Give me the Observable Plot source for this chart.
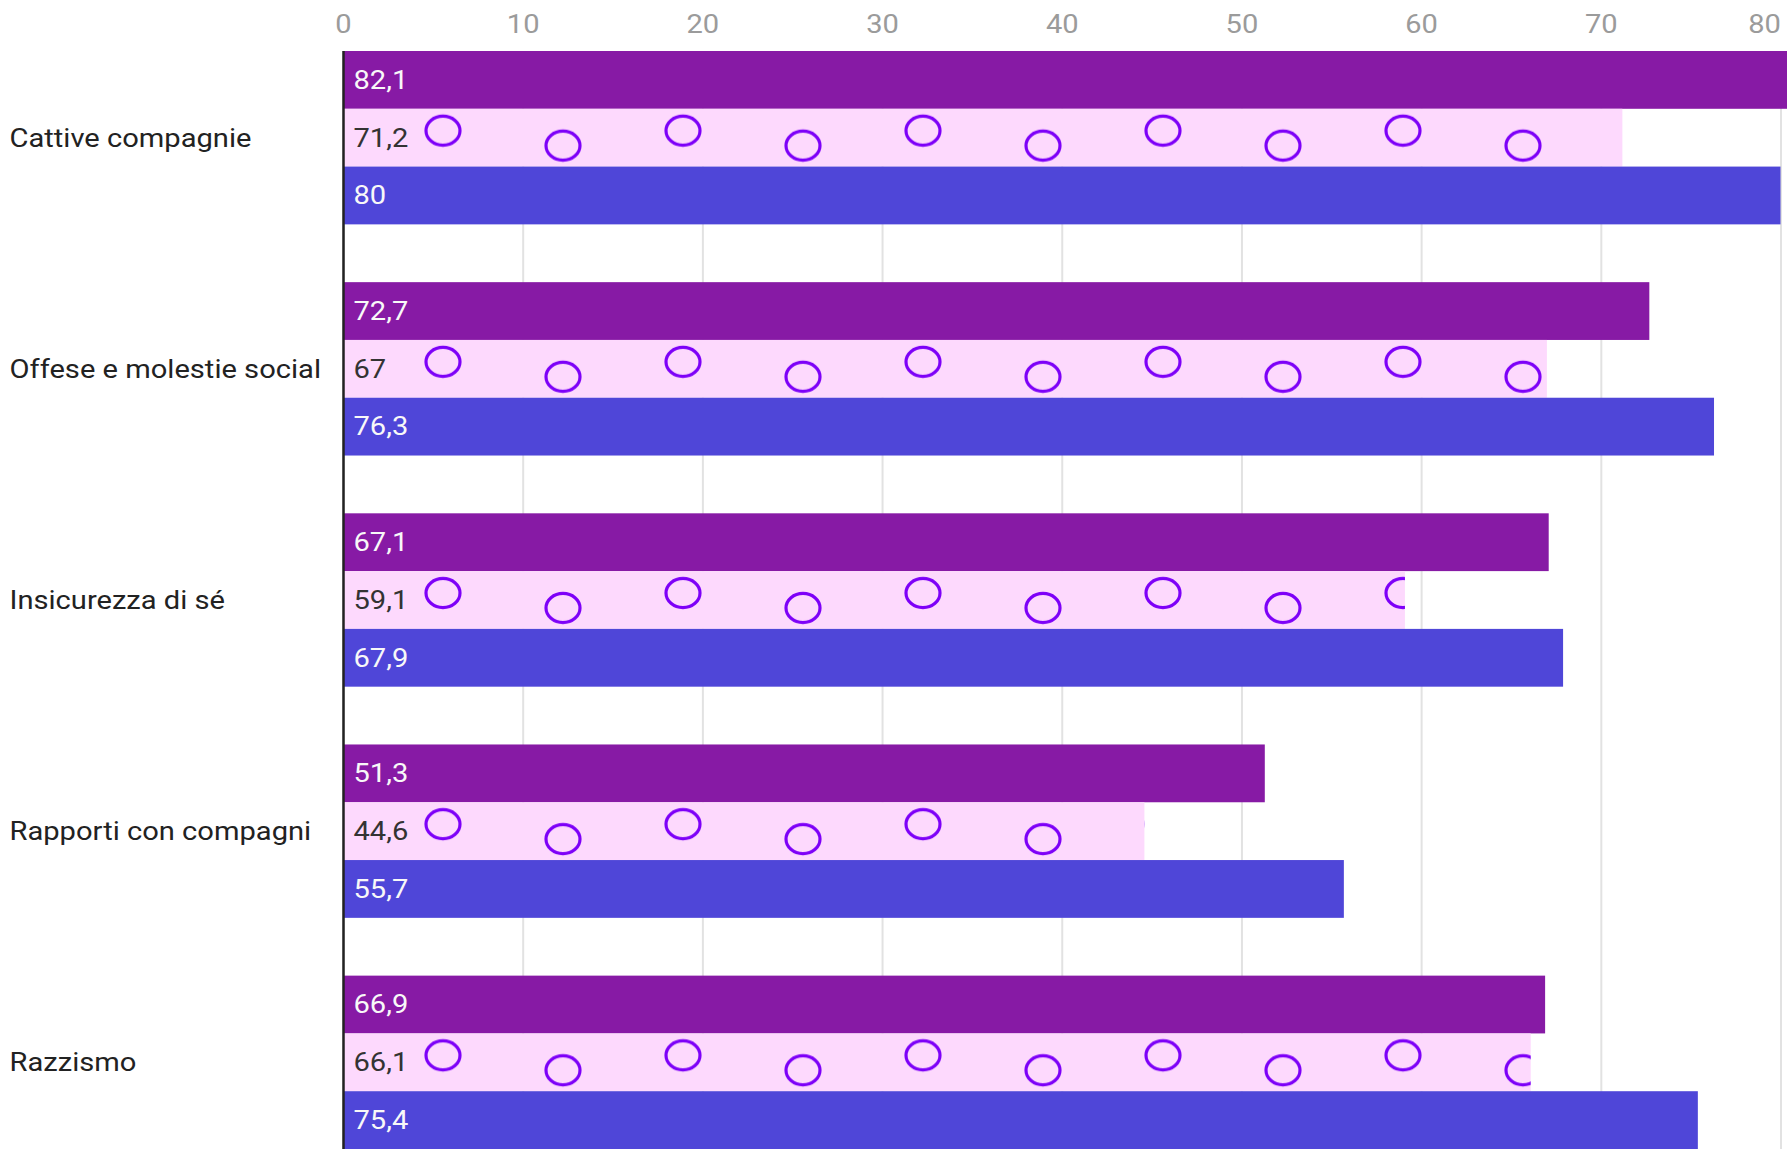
<!DOCTYPE html>
<html>
<head>
<meta charset="utf-8">
<script src="https://cdn.jsdelivr.net/npm/d3@7"></script>
<script src="https://cdn.jsdelivr.net/npm/@observablehq/plot@0.6"></script>
<style>
  html, body { margin: 0; padding: 0; background: #ffffff; overflow: hidden; }
</style>
</head>
<body>
<div id="chart"></div>
<script>
// ---- data ----
const categories = [
  "Cattive compagnie",
  "Offese e molestie social",
  "Insicurezza di sé",
  "Rapporti con compagni",
  "Razzismo"
];
const seriesNames = ["Serie 1", "Serie 2", "Serie 3"];
const series1 = [82.1, 72.7, 67.1, 51.3, 66.9];
const series2 = [71.2, 67, 59.1, 44.6, 66.1];
const series3 = [80, 76.3, 67.9, 55.7, 75.4];
const xTicks = [0, 10, 20, 30, 40, 50, 60, 70, 80];

// ---- styles ----
const seriesFill = ["#871aa5", "url(#cerchi)", "#4f46d8"];
const labelFill = ["#f8f8f8", "#333333", "#f8f8f8"];
const fontSize = 26;
const textStretch = 1.12; // the lettering in the reference is slightly wide

const key = (c, s) => c + "|" + s;
const allSeries = [series1, series2, series3];
const rows = [];
categories.forEach((c, i) => {
  allSeries.forEach((vals, j) => {
    rows.push({category: c, series: seriesNames[j], s: j, value: vals[i], k: key(c, seriesNames[j])});
  });
});
const yDomain = categories.flatMap((c, i) => {
  const k = seriesNames.map(s => key(c, s));
  return i < categories.length - 1 ? [...k, key(c, "spazio")] : k;
});
const fmt = v => v.toLocaleString("it-IT");

const chart = Plot.plot({
  width: 1787,
  height: 1153,
  marginLeft: 343,
  marginRight: 6.5,
  marginTop: 51,
  marginBottom: 4,
  style: {fontFamily: "Roboto, sans-serif", fontSize: fontSize + "px", background: "#ffffff", overflow: "hidden"},
  x: {domain: [0, 80], axis: null},
  y: {domain: yDomain, axis: null, padding: 0, round: false},
  color: {domain: seriesNames, range: seriesFill},
  marks: [
    Plot.gridX(xTicks, {stroke: "#e2e2e2", strokeOpacity: 1, strokeWidth: 2}),
    Plot.barX(rows, {x: "value", y: "k", fill: "series"}),
    Plot.ruleX([0], {stroke: "#222222", strokeWidth: 2.5}),
    Plot.text(rows.filter(d => d.s !== 1), {
      x: 0, y: "k", text: d => fmt(d.value), dx: 10, textAnchor: "start",
      fill: labelFill[0], fontSize
    }),
    Plot.text(rows.filter(d => d.s === 1), {
      x: 0, y: "k", text: d => fmt(d.value), dx: 10, textAnchor: "start",
      fill: labelFill[1], fontSize
    }),
    Plot.text(categories, {
      y: c => key(c, seriesNames[1]), text: c => c, frameAnchor: "left",
      dx: -334, textAnchor: "start", fill: "#222222", fontSize
    }),
    Plot.axisX(xTicks.slice(0, -1), {
      anchor: "top", tickSize: 0, tickPadding: 19, fill: "#9b9b9b", fontSize, label: null
    }),
    Plot.axisX(xTicks.slice(-1), {
      anchor: "top", tickSize: 0, tickPadding: 19, fill: "#9b9b9b", fontSize, textAnchor: "end", label: null
    })
  ]
});

// widen the lettering about each text's own anchor point
d3.select(chart).selectAll("text").each(function () {
  const t = this.getAttribute("transform");
  if (t) {
    this.setAttribute("transform", t + ` scale(${textStretch},1)`);
  } else {
    const x = +this.getAttribute("x") || 0;
    const y = +this.getAttribute("y") || 0;
    this.setAttribute("transform", `translate(${x},${y}) scale(${textStretch},1) translate(${-x},${-y})`);
  }
});

// pattern for the middle series: pink fill with violet rings
const ys = chart.scale("y");
const xs = chart.scale("x");
const y0 = ys.apply(key(categories[0], seriesNames[1]));
const step = ys.apply(key(categories[1], seriesNames[1])) - y0;
const bw = ys.bandwidth;
const x0 = xs.apply(0);
const svg = d3.select(chart);
const pat = svg.insert("defs", ":first-child")
  .append("pattern")
  .attr("id", "cerchi")
  .attr("patternUnits", "userSpaceOnUse")
  .attr("x", x0).attr("y", y0)
  .attr("width", 240).attr("height", step);
pat.append("rect").attr("width", 240).attr("height", step).attr("fill", "#fdd9fd");
pat.append("ellipse").attr("cx", 100).attr("cy", bw / 2 - 7).attr("rx", 17).attr("ry", 14.5)
  .attr("fill", "none").attr("stroke", "#7d00f8").attr("stroke-width", 3.2);
pat.append("ellipse").attr("cx", 220).attr("cy", bw / 2 + 8).attr("rx", 17).attr("ry", 14.5)
  .attr("fill", "none").attr("stroke", "#7d00f8").attr("stroke-width", 3.2);

document.getElementById("chart").appendChild(chart);
</script>
</body>
</html>
